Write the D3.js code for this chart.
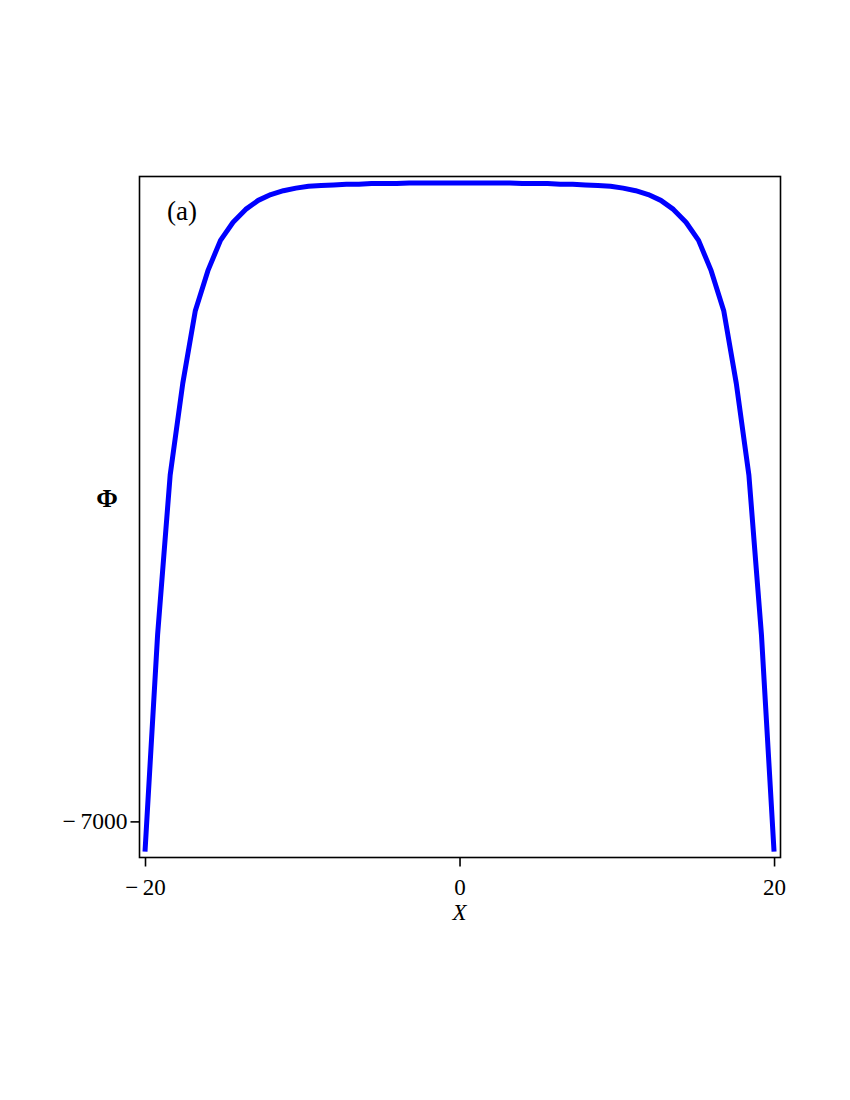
<!DOCTYPE html>
<html><head><meta charset="utf-8">
<script src="https://cdn.jsdelivr.net/npm/d3@7"></script>
<style>body{margin:0;background:#fff}</style>
</head><body>
<svg id="c" width="850" height="1100"></svg>
<script>
const xValues = [-20,-19.2,-18.4,-17.6,-16.8,-16,-15.2,-14.4,-13.6,-12.8,-12,-11.2,-10.4,-9.6,-8.8,-8,-7.2,-6.4,-5.6,-4.8,-4,-3.2,-2.4,-1.6,-0.8,0,
  0.8,1.6,2.4,3.2,4,4.8,5.6,6.4,7.2,8,8.8,9.6,10.4,11.2,12,12.8,13.6,14.4,15.2,16,16.8,17.6,18.4,19.2,20];
const phiValues = [-7047,-6711,-6463,-6321,-6208,-6146,-6099,-6071,-6051,-6037,-6028,-6022,-6018,-6015,-6014,-6013,-6012,-6012,-6011,-6011,-6011,-6010,-6010,-6010,-6010,-6010,
  -6010,-6010,-6010,-6010,-6011,-6011,-6011,-6012,-6012,-6013,-6014,-6015,-6018,-6022,-6028,-6037,-6051,-6071,-6099,-6146,-6208,-6321,-6463,-6711,-7047];
const xTicks = [-20, 0, 20];
const yTicks = [-7000];
const panelLabel = "(a)";
const xLabel = "X";
const yLabel = "Φ";

const svg = d3.select("#c");
const L = 139.5, R = 780.5, T = 176.5, B = 857.5;
const x = d3.scaleLinear().domain([-20.35, 20.41]).range([L, R]);
const y = d3.scaleLinear().domain([-7056, -6000]).range([B, T]);
const font = "'Liberation Serif','Times New Roman',serif";
const fmt = d => (d < 0 ? "\u2212" + "\u2009" + Math.abs(d) : String(d));

svg.append("path").datum(xValues.map((v,i)=>[v, phiValues[i]]))
  .attr("fill","none").attr("stroke","#0000ff").attr("stroke-width",5)
  .attr("stroke-linejoin","round")
  .attr("d", d3.line().x(d=>x(d[0])).y(d=>y(d[1])));

svg.append("rect").attr("x",L).attr("y",T).attr("width",R-L).attr("height",B-T)
  .attr("fill","none").attr("stroke","#000").attr("stroke-width",1.6);

const xAxis = svg.append("g").attr("transform",`translate(0,${B})`)
  .call(d3.axisBottom(x).tickValues(xTicks).tickSize(9).tickFormat(fmt));
xAxis.select(".domain").remove();
xAxis.selectAll("line").attr("stroke","#000").attr("stroke-width",1.6);
xAxis.selectAll("text").attr("font-family",font).attr("font-size",23).attr("fill","#000").attr("dy","0.71em").attr("y",21);

const yAxis = svg.append("g").attr("transform",`translate(${L},0)`)
  .call(d3.axisLeft(y).tickValues(yTicks).tickSize(9).tickFormat(fmt));
yAxis.select(".domain").remove();
yAxis.selectAll("line").attr("stroke","#000").attr("stroke-width",1.6);
yAxis.selectAll("text").attr("font-family",font).attr("font-size",23.5).attr("fill","#000").attr("x",-12);

svg.append("text").attr("x",x(0)).attr("y",920).attr("text-anchor","middle")
  .attr("font-family",font).attr("font-style","italic").attr("font-size",23).text(xLabel);
svg.append("text").attr("x",107).attr("y",507).attr("text-anchor","middle")
  .attr("font-family",font).attr("font-weight","bold").attr("font-size",26).text(yLabel);
svg.append("text").attr("x",182).attr("y",220).attr("text-anchor","middle")
  .attr("font-family",font).attr("font-size",27).text(panelLabel);
</script>
</body></html>
